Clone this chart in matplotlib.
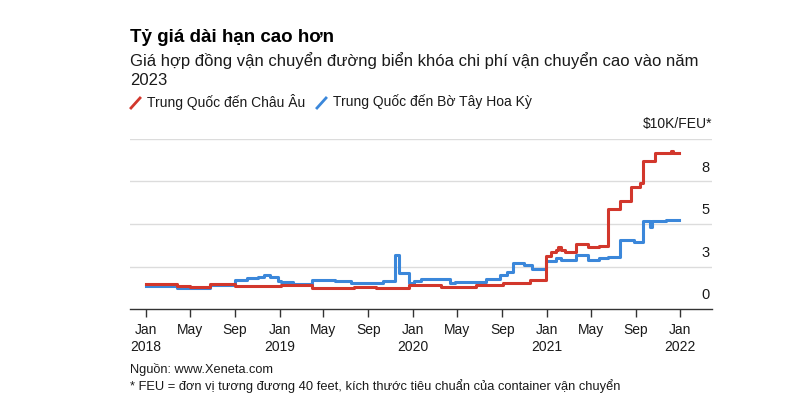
import matplotlib
matplotlib.use("Agg")
import matplotlib.pyplot as plt
import pandas as pd
from matplotlib.lines import Line2D

plt.rcParams['font.family'] = ['Liberation Sans', 'DejaVu Sans']

# China -> Europe contract rates ($K per FEU), step changes
europe_dates = [
    "2018-01-01", "2018-03-26", "2018-05-01", "2018-06-25", "2018-09-01",
    "2019-01-05", "2019-04-01", "2019-07-25", "2019-09-22", "2019-12-22",
    "2020-03-18", "2020-06-22", "2020-09-04", "2020-11-16", "2020-12-29",
    "2021-01-12", "2021-01-26", "2021-02-02", "2021-02-08", "2021-02-20",
    "2021-03-22", "2021-04-23", "2021-05-25", "2021-06-18", "2021-07-19",
    "2021-08-20", "2021-09-12", "2021-09-22", "2021-10-23", "2021-11-24",
    "2021-12-08", "2021-12-12", "2021-12-28",
]
europe_rates = [
    1.45, 1.37, 1.30, 1.47, 1.35,
    1.43, 1.25, 1.31, 1.22, 1.40,
    1.31, 1.41, 1.51, 1.70, 3.12,
    3.37, 3.47, 3.63, 3.50, 3.37,
    3.85, 3.67, 3.70, 5.88, 6.35,
    7.16, 7.40, 8.73, 9.20, 9.15,
    9.30, 9.20, 9.20,
]

# China -> US West Coast
uswc_dates = [
    "2018-01-01", "2018-03-26", "2018-06-25", "2018-09-01", "2018-10-03",
    "2018-11-03", "2018-11-20", "2018-12-05", "2018-12-28", "2019-01-06",
    "2019-02-06", "2019-04-01", "2019-06-03", "2019-07-15", "2019-10-10",
    "2019-11-12", "2019-11-25", "2019-12-22", "2020-01-05", "2020-01-24",
    "2020-04-10", "2020-04-25", "2020-07-19", "2020-08-25", "2020-09-13",
    "2020-10-01", "2020-10-10", "2020-11-01", "2020-11-22", "2020-12-29",
    "2021-01-26", "2021-02-08", "2021-03-22", "2021-04-23", "2021-05-25",
    "2021-06-18", "2021-07-19", "2021-08-01", "2021-08-28", "2021-09-22",
    "2021-10-10", "2021-10-16", "2021-11-24", "2021-12-28",
]
uswc_rates = [
    1.37, 1.25, 1.40, 1.70, 1.80,
    1.90, 2.00, 1.90, 1.67, 1.60,
    1.50, 1.72, 1.62, 1.55, 1.66,
    3.18, 2.13, 1.55, 1.66, 1.75,
    1.51, 1.61, 1.75, 2.00, 2.20,
    2.69, 2.72, 2.60, 2.35, 2.84,
    2.98, 2.88, 3.18, 2.86, 3.00,
    3.06, 4.06, 4.08, 3.96, 5.18,
    4.84, 5.15, 5.24, 5.24,
]

tick_dates = pd.date_range("2018-01-01", "2022-01-01", freq="4MS")
grid_values = [2.5, 5, 7.5, 10]
ylabel_values = [0, 2.5, 5, 7.5]
ylabel_texts = ["0", "3", "5", "8"]

RED = "#d2372c"
BLUE = "#3b87da"
TEXT = "#1a1a1a"

fig = plt.figure(figsize=(8, 4.2), dpi=100)
ax = fig.add_axes([130 / 800, 1 - 309 / 420, 582 / 800, 170 / 420])

for v in grid_values:
    ax.axhline(v, color="#dcdcdc", lw=1, zorder=0)

ax.plot(pd.to_datetime(europe_dates), europe_rates, drawstyle="steps-post",
        color=RED, lw=2.2, zorder=3)
ax.plot(pd.to_datetime(uswc_dates), uswc_rates, drawstyle="steps-post",
        color=BLUE, lw=2.2, zorder=2)

ax.set_ylim(0, 10)
ax.set_xlim(pd.Timestamp("2017-11-18"), pd.Timestamp("2022-03-29"))

for s in ["top", "left", "right"]:
    ax.spines[s].set_visible(False)
ax.spines["bottom"].set_color("#333333")
ax.spines["bottom"].set_linewidth(1)
ax.set_yticks([])

ax.set_xticks(tick_dates)
ax.set_xticklabels([d.strftime("%b\n%Y") if d.month == 1 else d.strftime("%b")
                    for d in tick_dates], fontsize=10, color=TEXT, linespacing=1.25)
ax.tick_params(axis="x", length=6, width=1, color="#333333", pad=4)

for v, lab in zip(ylabel_values, ylabel_texts):
    ax.annotate(lab, xy=(1, v), xycoords=("axes fraction", "data"),
                xytext=(-2, 5), textcoords="offset points",
                ha="right", va="bottom", fontsize=10.5, color=TEXT)
ax.annotate("$10K/FEU*", xy=(1, 10), xycoords=("axes fraction", "data"),
            xytext=(0, 6), textcoords="offset points",
            ha="right", va="bottom", fontsize=10, color=TEXT)

# header
fig.text(130 / 800, 1 - 37 / 420, "Tỷ giá dài hạn cao hơn", fontsize=13.5,
         fontweight="bold", color="#000000", va="center")
fig.text(130 / 800, 1 - 52 / 420,
         "Giá hợp đồng vận chuyển đường biển khóa chi phí vận chuyển cao vào năm\n2023",
         fontsize=12, color=TEXT, va="top", linespacing=1.32)

# legend
fig.add_artist(Line2D([131 / 800, 140 / 800], [1 - 108 / 420, 1 - 98 / 420],
                      color=RED, lw=2, transform=fig.transFigure))
fig.text(147 / 800, 1 - 102 / 420, "Trung Quốc đến Châu Âu", fontsize=10,
         color=TEXT, va="center")
fig.add_artist(Line2D([317 / 800, 326 / 800], [1 - 108 / 420, 1 - 98 / 420],
                      color=BLUE, lw=2, transform=fig.transFigure))
fig.text(333 / 800, 1 - 102 / 420, "Trung Quốc đến Bờ Tây Hoa Kỳ", fontsize=10,
         color=TEXT, va="center")

# footer
fig.text(130 / 800, 1 - 370 / 420, "Nguồn: www.Xeneta.com", fontsize=9.2,
         color=TEXT, va="center")
fig.text(130 / 800, 1 - 386 / 420,
         "* FEU = đơn vị tương đương 40 feet, kích thước tiêu chuẩn của container vận chuyển",
         fontsize=9.3, color=TEXT, va="center")

fig.savefig("out.png", dpi=100)
